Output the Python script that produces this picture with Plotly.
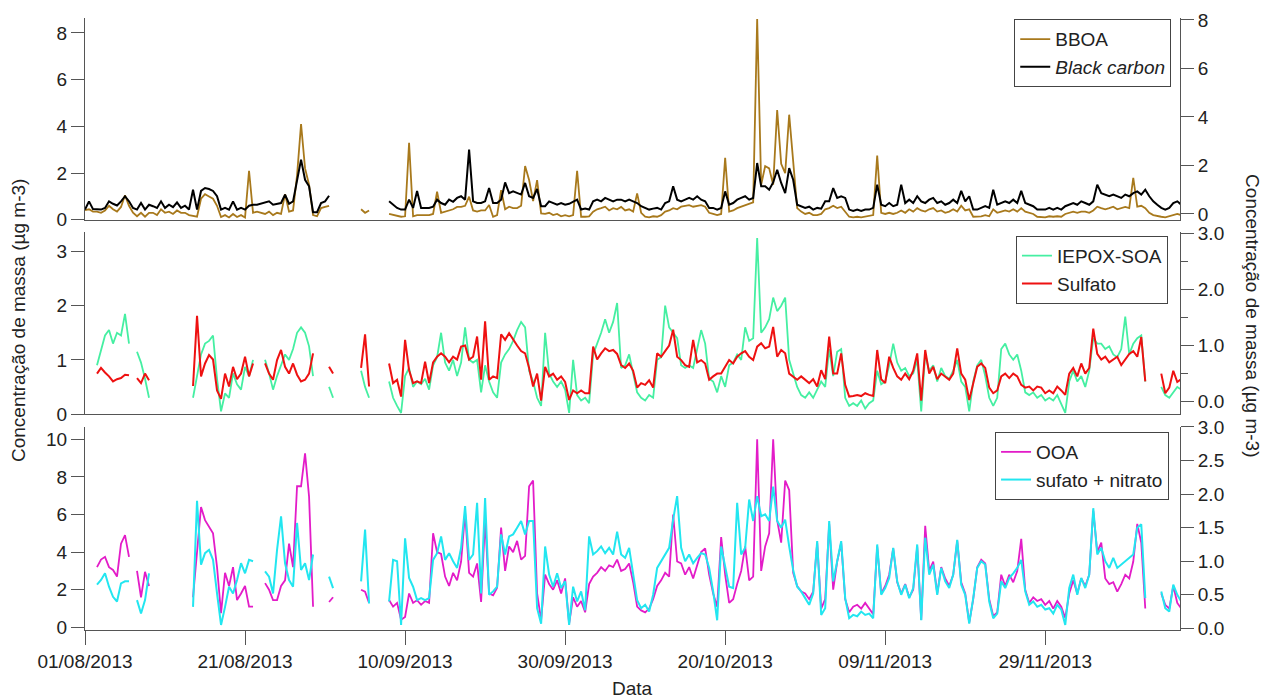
import pandas as pd
import plotly.graph_objects as go

N = None
# 12-hour time grid starting 01/08/2013 00:00 (275 points)
start = pd.Timestamp("2013-08-01")
times = [start + pd.Timedelta(hours=12 * k) for k in range(275)]

bboa = [0.41, 0.45, 0.35, 0.35, 0.3, 0.4, 0.6, 0.45, 0.35, 0.55,
        1.05, 0.6, 0.3, 0.15, 0.3, 0.13, 0.3, 0.3, 0.2, 0.45,
        0.3, 0.35, 0.25, 0.4, 0.3, 0.3, 0.2, 0.15, 0.13, 0.9,
        1.1, 1.0, 0.9, 0.6, 0.12, 0.2, 0.1, 0.25, 0.12, 0.2,
        0.1, 2.1, 0.3, 0.35, 0.3, 0.25, 0.35, 0.2, 0.3, 0.25,
        1.1, 0.35, 0.4, 1.9, 4.1, 2.2, 1.5, 0.2, 0.15, 0.5,
        0.55, 0.6, N, N, N, N, N, N, N, 0.45,
        0.3, 0.4, N, N, N, N, 0.25, 0.2, 0.15, 0.13,
        0.15, 3.3, 0.15, 0.2, 0.2, 0.2, 0.2, 0.25, 1.2, 0.3,
        0.35, 0.4, 0.45, 0.55, 0.55, 0.6, 0.99, 0.4, 0.35, 0.4,
        0.4, 0.63, 0.13, 0.2, 1.27, 0.45, 0.56, 0.5, 0.5, 0.6,
        2.3, 1.7, 0.8, 1.7, 0.27, 0.25, 0.3, 0.2, 0.25, 0.15,
        0.2, 0.15, 0.2, 2.1, 0.13, 0.13, 0.15, 0.35, 0.45, 0.5,
        0.56, 0.4, 0.5, 0.45, 0.55, 0.4, 0.45, 0.35, 1.13, 0.3,
        0.13, 0.1, 0.15, 0.13, 0.2, 0.35, 0.4, 0.5, 0.45, 0.56,
        0.6, 0.63, 0.56, 0.6, 0.63, 0.56, 0.3, 0.25, 0.2, 0.25,
        2.65, 0.35, 0.4, 0.5, 0.56, 0.63, 0.7, 0.75, 8.6, 1.5,
        2.3, 2.2, 1.5, 4.7, 2.4, 2.0, 4.5, 2.6, 0.5, 0.35,
        0.25, 0.3, 0.2, 0.2, 0.25, 0.45, 0.5, 0.6, 0.5, 0.56,
        0.35, 0.13, 0.1, 0.13, 0.1, 0.13, 0.15, 0.2, 2.75, 0.3,
        0.25, 0.3, 0.25, 0.3, 0.4, 0.3, 0.45, 0.35, 0.5, 0.4,
        0.35, 0.45, 0.5, 0.35, 0.4, 0.3, 0.35, 0.45, 0.35, 0.6,
        0.4, 0.45, 0.13, 0.13, 0.15, 0.2, 0.15, 0.45, 0.3, 0.35,
        0.4, 0.35, 0.45, 0.35, 0.5, 0.35, 0.3, 0.25, 0.13, 0.13,
        0.1, 0.15, 0.13, 0.15, 0.13, 0.25, 0.3, 0.35, 0.3, 0.35,
        0.35, 0.3, 0.4, 0.56, 0.5, 0.45, 0.5, 0.56, 0.45, 0.5,
        0.55, 0.5, 1.8, 0.56, 0.6, 0.5, 0.3, 0.2, 0.15, 0.13,
        0.1, 0.15, 0.2, 0.25, 0.2]

black_carbon = [0.18, 0.52, 0.2, 0.2, 0.18, 0.25, 0.52, 0.42, 0.35, 0.52,
                0.73, 0.52, 0.25, 0.18, 0.45, 0.18, 0.38, 0.32, 0.25, 0.52,
                0.25, 0.38, 0.28, 0.48, 0.25, 0.34, 0.18, 1.0, 0.18, 0.95,
                1.07, 1.03, 0.95, 0.73, 0.18, 0.25, 0.18, 0.52, 0.18, 0.25,
                0.18, 0.34, 0.38, 0.38, 0.42, 0.48, 0.52, 0.38, 0.42, 0.45,
                0.8, 0.42, 0.52, 1.41, 2.24, 1.41, 1.14, 0.07, 0.07, 0.45,
                0.52, 0.75, N, N, N, N, N, N, N, N,
                N, N, N, N, N, N, 0.52, 0.38, 0.25, 0.18,
                0.18, 0.59, 0.25, 0.95, 0.25, 0.25, 0.25, 0.3, 0.59, 0.45,
                0.38, 0.59, 0.5, 0.66, 0.73, 0.59, 2.65, 0.52, 0.45, 0.45,
                0.52, 1.07, 0.45, 0.45, 0.59, 1.3, 0.86, 0.93, 0.86, 0.8,
                1.28, 0.73, 0.66, 1.03, 0.32, 0.32, 0.52, 0.45, 0.38, 0.45,
                0.38, 0.42, 0.52, 0.59, 0.18, 0.22, 0.18, 0.52, 0.59, 0.52,
                0.66, 0.59, 0.52, 0.59, 0.59, 0.52, 0.59, 0.52, 0.45, 0.32,
                0.25, 0.18, 0.22, 0.25, 0.18, 0.45, 0.52, 1.14, 0.59, 0.52,
                0.59, 0.66, 0.59, 0.73, 0.59, 0.52, 0.25, 0.25, 0.18, 0.25,
                0.93, 0.38, 0.45, 0.59, 0.66, 0.73, 0.59, 0.66, 2.1, 1.14,
                1.14, 1.0, 1.3, 1.82, 1.28, 0.86, 1.89, 1.41, 0.38, 0.32,
                0.25, 0.3, 0.18, 0.25, 0.22, 0.52, 0.52, 1.07, 0.66, 0.73,
                0.66, 0.18, 0.12, 0.18, 0.12, 0.18, 0.18, 0.25, 1.21, 0.38,
                0.32, 0.45, 0.32, 0.38, 1.21, 0.45, 0.59, 0.45, 0.73, 0.52,
                0.45, 0.59, 0.66, 0.45, 0.52, 0.38, 0.45, 0.59, 0.45, 0.95,
                0.52, 0.73, 0.18, 0.18, 0.25, 0.32, 0.25, 1.0, 0.38, 0.45,
                0.52, 0.45, 0.59, 0.45, 0.95, 0.45, 0.38, 0.32, 0.18, 0.18,
                0.18, 0.25, 0.18, 0.25, 0.18, 0.32, 0.38, 0.45, 0.38, 0.52,
                0.45, 0.38, 0.52, 1.21, 0.86, 0.8, 0.73, 0.8, 0.73, 0.66,
                0.8, 0.73, 0.86, 0.93, 0.8, 1.0, 0.73, 0.52, 0.38, 0.25,
                0.18, 0.25, 0.45, 0.52, 0.38]

iepox_soa = [N, N, N, 0.9, 1.2, 1.45, 1.55, 1.3, 1.5, 1.45,
             1.85, 1.3, N, 1.15, 0.95, 0.65, 0.3, N, N, N,
             N, N, N, N, N, N, N, 0.3, 0.7, 1.1,
             1.3, 1.35, 1.45, 0.65, 0.05, 0.38, 0.3, 0.75, 0.55, 0.45,
             0.87, 0.7, 1.0, N, N, 1.0, 0.75, 0.45, 0.7, 0.9,
             1.1, 1.0, 1.2, 1.5, 1.6, 1.5, 1.25, 0.7, N, N,
             N, 0.5, 0.3, N, N, N, N, N, N, 0.8,
             0.5, 0.3, N, N, N, N, 0.6, 0.3, 0.15, 0.02,
             0.7, 0.85, 0.5, 0.6, 0.55, 0.65, 0.45, 0.9, 1.05, 1.5,
             0.95, 0.8, 1.0, 0.7, 0.95, 1.6, 1.0, 0.95, 1.0, 0.4,
             0.9, 0.6, 0.4, 0.3, 0.95, 1.1, 1.2, 1.35, 1.55, 1.7,
             1.6, 0.8, 0.6, 0.3, 0.15, 1.5, 0.75, 0.6, 0.5, 0.6,
             0.45, 0.02, 1.0, 0.35, 0.25, 0.3, 0.2, 1.1, 1.3, 1.5,
             1.75, 1.5, 1.7, 2.05, 0.85, 0.9, 1.1, 0.75, 0.4, 0.3,
             0.25, 0.35, 0.3, 1.0, 1.05, 2.0, 1.6, 1.5, 1.4, 0.9,
             0.85, 0.9, 0.85, 1.2, 1.55, 1.3, 0.65, 0.6, 0.4, 0.7,
             0.5, 0.9, 0.95, 1.1, 1.0, 1.6, 1.35, 1.4, 3.25, 1.5,
             1.6, 1.75, 2.15, 1.9, 2.0, 2.15, 1.0, 0.75, 0.5, 0.35,
             0.3, 0.4, 0.3, 0.45, 0.6, 0.5, 1.2, 0.7, 1.15, 1.2,
             0.3, 0.15, 0.2, 0.15, 0.25, 0.1, 0.2, 0.25, 0.8, 0.55,
             0.6, 0.9, 1.3, 0.95, 0.8, 0.85, 0.7, 0.75, 1.0, 0.05,
             1.1, 0.8, 0.9, 0.6, 0.85, 0.7, 0.65, 0.8, 1.0, 0.6,
             0.5, 0.05, 0.6, 0.9, 1.0, 0.7, 0.3, 0.15, 0.3, 1.2,
             1.3, 1.1, 1.0, 1.1, 0.8, 0.4, 0.35, 0.4, 0.3, 0.35,
             0.25, 0.3, 0.25, 0.35, 0.2, 0.02, 0.6, 0.8, 0.6, 0.7,
             0.5, 0.8, 1.4, 1.3, 1.3, 1.2, 1.25, 1.1, 1.05, 1.2,
             1.8, 1.1, 1.3, 1.4, 1.45, 0.6, N, N, N, 0.5,
             0.35, 0.3, 0.4, 0.5, 0.45]

sulfato = [N, N, N, 0.5, 0.6, 0.52, 0.45, 0.36, 0.4, 0.42,
           0.48, 0.47, N, 0.42, 0.33, 0.5, 0.38, N, N, N,
           N, N, N, N, N, N, N, 0.28, 1.53, 0.45,
           0.68, 0.83, 0.75, 0.2, 0.05, 0.5, 0.27, 0.62, 0.4, 0.5,
           0.8, 0.45, 0.68, N, N, 0.68, 0.5, 0.39, 0.74, 0.92,
           0.62, 0.5, 0.68, 0.48, 0.36, 0.39, 0.5, 0.86, N, N,
           N, 0.62, 0.5, N, N, N, N, N, N, 0.6,
           1.2, 0.27, N, N, N, N, 0.68, 0.33, 0.39, 0.09,
           1.1, 0.56, 0.33, 0.36, 0.33, 0.71, 0.33, 0.7, 0.8, 0.86,
           0.8, 0.7, 0.8, 0.75, 0.98, 1.0, 0.75, 0.8, 1.16, 0.39,
           1.43, 0.39, 0.45, 0.42, 1.2, 1.1, 1.22, 1.1, 1.0, 0.9,
           0.86, 0.6, 0.27, 0.5, 0.02, 0.62, 0.45, 0.5, 0.39, 0.45,
           0.35, 0.03, 0.2, 0.15, 0.2, 0.15, 0.15, 0.98, 0.75, 0.86,
           0.95, 0.9, 0.92, 0.85, 0.65, 0.6, 0.68, 0.55, 0.25, 0.33,
           0.3, 0.38, 0.25, 0.86, 0.8, 0.9, 1.0, 1.28, 0.8, 0.74,
           0.65, 0.62, 1.1, 0.7, 0.74, 0.68, 0.39, 0.45, 0.5, 0.5,
           0.62, 0.74, 0.68, 0.8, 0.86, 0.9, 0.8, 0.74, 0.98, 1.04,
           0.95, 0.98, 1.33, 0.8, 0.92, 0.86, 0.5, 0.45, 0.39, 0.45,
           0.39, 0.33, 0.4, 0.27, 0.56, 0.4, 1.16, 0.5, 0.5, 0.86,
           0.3, 0.09, 0.1, 0.12, 0.1, 0.15, 0.12, 0.1, 0.92, 0.4,
           0.33, 0.8, 0.6, 0.45, 0.39, 0.5, 0.4, 0.55, 0.86, 0.02,
           0.92, 0.5, 0.62, 0.4, 0.5, 0.45, 0.39, 0.5, 0.95, 0.5,
           0.39, 0.03, 0.3, 0.62, 0.68, 0.6, 0.25, 0.15, 0.2, 0.45,
           0.5, 0.42, 0.5, 0.45, 0.3, 0.25, 0.27, 0.2, 0.27, 0.25,
           0.15, 0.2, 0.15, 0.27, 0.2, 0.12, 0.5, 0.6, 0.45, 0.68,
           0.5, 0.6, 1.3, 0.85, 0.75, 0.8, 0.7, 0.75, 0.8, 0.65,
           0.75, 0.85, 0.9, 0.8, 1.15, 0.36, N, N, N, 0.5,
           0.15, 0.25, 0.55, 0.35, 0.4]

ooa = [N, N, N, 3.2, 3.6, 3.75, 3.2, 3.05, 2.7, 4.45,
       4.9, 3.75, N, 3.0, 1.6, 2.95, 2.2, N, N, N,
       N, N, N, N, N, N, N, 1.6, 3.9, 6.4,
       5.7, 5.35, 5.0, 3.2, 0.75, 2.9, 2.2, 3.2, 1.45, 1.8,
       2.2, 1.1, 1.1, N, N, 2.35, 2.0, 1.45, 1.45, 2.2,
       2.5, 4.45, 3.2, 7.5, 7.5, 9.25, 6.95, 1.1, N, N,
       N, 1.35, 1.6, N, N, N, N, N, N, 2.0,
       1.9, 1.3, N, N, N, N, 1.45, 1.1, 1.3, 0.4,
       0.55, 1.8, 1.3, 1.45, 1.2, 1.4, 1.3, 5.0, 4.0, 3.9,
       2.7, 2.2, 2.9, 2.5, 3.5, 6.1, 2.9, 2.7, 3.4, 1.35,
       5.7, 1.8, 1.7, 2.1, 5.3, 3.0, 4.3, 4.0, 4.6, 3.6,
       3.8, 7.5, 7.8, 1.8, 0.4, 2.8, 2.3, 2.0, 2.5, 1.8,
       2.6, 0.2, 1.6, 1.1, 1.4, 0.8, 2.3, 2.7, 2.9, 3.2,
       3.0, 3.3, 3.2, 3.6, 3.0, 3.1, 3.4, 2.4, 1.1, 0.9,
       0.8, 1.0, 1.5, 2.2, 2.5, 2.9, 2.7, 6.0, 3.5, 3.4,
       2.8, 3.2, 2.6, 3.3, 4.0, 4.2, 2.8, 1.8, 1.1, 4.8,
       2.8, 1.3, 1.5, 2.3, 3.0, 4.3, 2.5, 2.7, 10.0, 3.0,
       4.3, 5.0, 10.0, 5.7, 4.5, 7.8, 7.3, 2.9, 2.2, 1.9,
       1.8, 1.5, 1.9, 4.5, 1.0, 1.5, 5.5, 2.0, 3.5, 4.5,
       1.5, 0.8, 1.1, 1.2, 1.0, 1.3, 1.0, 0.7, 4.3, 1.8,
       2.2, 2.8, 4.2, 2.4, 1.8, 2.3, 1.6, 2.0, 4.3, 0.4,
       5.4, 3.0, 3.5, 1.8, 3.2, 2.6, 2.2, 2.8, 4.6, 2.4,
       1.8, 0.25, 1.5, 3.2, 3.6, 3.4, 1.5, 0.6, 0.8, 2.8,
       2.2, 2.8, 2.4, 3.0, 4.7, 2.0, 1.3, 1.6, 1.4, 1.5,
       1.2, 1.4, 1.0, 1.4, 1.1, 0.5, 1.8, 2.5, 1.8, 2.6,
       2.2, 2.8, 6.2, 4.0, 4.5, 2.6, 2.3, 2.4, 1.9, 2.3,
       2.8, 2.6, 3.5, 5.5, 4.5, 1.0, N, N, N, 1.8,
       1.2, 1.0, 2.2, 1.3, 1.0]

sulfato_nitrato = [N, N, N, 0.65, 0.72, 0.82, 0.62, 0.47, 0.4, 0.67,
                   0.7, 0.7, N, 0.42, 0.22, 0.42, 0.82, N, N, N,
                   N, N, N, N, N, N, N, 0.32, 1.9, 0.95,
                   1.12, 1.17, 1.02, 0.52, 0.05, 0.32, 0.62, 0.52, 0.72, 0.97,
                   0.82, 1.02, 1.0, N, N, 0.85, 0.77, 0.52, 1.17, 1.67,
                   0.97, 0.72, 0.62, 1.57, 0.87, 0.97, 0.72, 1.1, N, N,
                   N, 0.77, 0.6, N, N, N, N, N, N, 0.7,
                   1.47, 0.37, N, N, N, N, 0.4, 1.02, 1.0, 0.05,
                   1.34, 0.75, 0.62, 0.42, 0.45, 0.42, 0.45, 1.02, 1.12, 1.37,
                   1.02, 1.12, 1.0, 0.9, 1.2, 1.82, 1.02, 1.1, 1.87, 0.52,
                   1.94, 0.5, 0.55, 0.62, 1.4, 1.1, 1.37, 1.4, 1.5, 1.6,
                   1.4, 1.6, 1.6, 0.3, 0.07, 1.22, 0.8, 0.62, 0.82, 0.6,
                   0.7, 0.05, 0.62, 0.4, 0.55, 0.27, 1.37, 1.1, 1.15, 1.22,
                   1.12, 1.2, 1.1, 1.44, 1.1, 1.05, 1.2, 0.8, 0.42, 0.3,
                   0.35, 0.25, 0.5, 0.9, 1.0, 1.12, 1.2, 1.62, 1.97, 1.2,
                   1.0, 1.1, 0.97, 1.05, 1.12, 1.1, 0.9, 0.55, 0.12, 1.22,
                   0.9, 0.62, 0.6, 1.87, 1.1, 1.2, 1.92, 1.6, 1.97, 1.67,
                   1.7, 1.6, 2.11, 1.6, 1.5, 1.62, 1.22, 0.87, 0.62, 0.55,
                   0.45, 0.35, 0.52, 1.3, 0.2, 0.3, 1.6, 0.7, 1.0, 1.3,
                   0.45, 0.15, 0.2, 0.18, 0.25, 0.2, 0.22, 0.15, 1.25, 0.5,
                   0.6, 0.75, 1.2, 0.7, 0.5, 0.65, 0.45, 0.6, 1.25, 0.12,
                   1.35, 0.8, 0.95, 0.5, 0.9, 0.7, 0.6, 0.8, 1.32, 0.65,
                   0.5, 0.07, 0.45, 0.9, 1.0, 0.95, 0.4, 0.15, 0.22, 0.7,
                   0.6, 0.75, 0.82, 0.9, 1.02, 0.55, 0.35, 0.4, 0.32, 0.35,
                   0.28, 0.3, 0.22, 0.35, 0.28, 0.05, 0.6, 0.8, 0.5, 0.75,
                   0.6, 0.8, 1.79, 1.1, 1.2, 1.0, 0.9, 1.05, 0.9, 0.95,
                   1.0, 1.05, 1.1, 1.5, 1.55, 0.45, N, N, N, 0.55,
                   0.3, 0.25, 0.65, 0.5, 0.4]

tick_dates = ["2013-08-01", "2013-08-21", "2013-09-10", "2013-09-30",
              "2013-10-20", "2013-11-09", "2013-11-29"]
tick_labels = ["01/08/2013", "21/08/2013", "10/09/2013", "30/09/2013",
               "20/10/2013", "09/11/2013", "29/11/2013"]

for arr in (bboa, black_carbon, iepox_soa, sulfato, ooa, sulfato_nitrato):
    assert len(arr) == len(times), len(arr)

FONT = "Liberation Sans, Arial, sans-serif"
AX = "#555555"
TXT = "#222222"

fig = go.Figure()
fig.add_trace(go.Scatter(x=times, y=bboa, name="BBOA", mode="lines",
                         line=dict(color="#A8791C", width=1.8),
                         xaxis="x3", yaxis="y", legend="legend"))
fig.add_trace(go.Scatter(x=times, y=black_carbon, name="<i>Black carbon</i>", mode="lines",
                         line=dict(color="#000000", width=2),
                         xaxis="x3", yaxis="y2", legend="legend"))
fig.add_trace(go.Scatter(x=times, y=iepox_soa, name="IEPOX-SOA", mode="lines",
                         line=dict(color="#45EFA2", width=1.8),
                         xaxis="x2", yaxis="y3", legend="legend2"))
fig.add_trace(go.Scatter(x=times, y=sulfato, name="Sulfato", mode="lines",
                         line=dict(color="#EE1111", width=2),
                         xaxis="x2", yaxis="y4", legend="legend2"))
fig.add_trace(go.Scatter(x=times, y=ooa, name="OOA", mode="lines",
                         line=dict(color="#E31CC8", width=1.8),
                         xaxis="x", yaxis="y5", legend="legend3"))
fig.add_trace(go.Scatter(x=times, y=sulfato_nitrato, name="sufato + nitrato", mode="lines",
                         line=dict(color="#22E6F0", width=2),
                         xaxis="x", yaxis="y6", legend="legend3"))

x_range = ["2013-08-01 00:00", "2013-12-15 20:10"]
dom3 = [0.0, 0.3317]
dom2 = [0.3529, 0.6503]
dom1 = [0.6699, 1.0]

tickfont = dict(family=FONT, size=19, color=TXT)


def yax(rng, dom=None, side="left", overlay=None, anchor=None, **kw):
    d = dict(range=rng, side=side, showline=True, linecolor=AX, linewidth=1,
             ticks="outside", ticklen=13, tickcolor=AX, tickwidth=1,
             showgrid=False, zeroline=False, tickfont=tickfont,
             automargin=False, fixedrange=True)
    if dom is not None:
        d["domain"] = dom
    if overlay is not None:
        d["overlaying"] = overlay
    if anchor is not None:
        d["anchor"] = anchor
    d.update(kw)
    return d


xbase = dict(range=x_range, type="date", showline=True, linecolor=AX, linewidth=1,
             showgrid=False, zeroline=False, automargin=False, domain=[0, 1])

legend_style = dict(xanchor="right", yanchor="top", bgcolor="white",
                    bordercolor="#444444", borderwidth=1,
                    font=dict(family=FONT, size=19, color=TXT), tracegroupgap=0)

fig.update_layout(
    width=1265, height=698,
    margin=dict(l=85, r=85, t=18, b=68),
    paper_bgcolor="white", plot_bgcolor="white",
    font=dict(family=FONT, size=19, color=TXT),
    showlegend=True,
    xaxis=dict(xbase, anchor="y5", ticks="outside", ticklen=14, tickcolor=AX,
               tickvals=tick_dates, ticktext=tick_labels, tickfont=tickfont),
    xaxis2=dict(xbase, anchor="y3", matches="x", ticks="", showticklabels=False),
    xaxis3=dict(xbase, anchor="y", matches="x", ticks="", showticklabels=False),
    yaxis=yax([-0.01, 8.64], dom=dom1, anchor="x3", tickvals=[0, 2, 4, 6, 8]),
    yaxis2=yax([-0.25, 8.08], side="right", overlay="y", anchor="x3",
               tickvals=[0, 2, 4, 6, 8]),
    yaxis3=yax([0, 3.36], dom=dom2, anchor="x2", tickvals=[0, 1, 2, 3]),
    yaxis4=yax([-0.22, 3.02], side="right", overlay="y3", anchor="x2",
               tickvals=[0, 1, 2, 3], tickformat=".1f",
               minor=dict(tickvals=[0.5, 1.5, 2.5], ticks="outside", ticklen=7,
                          tickcolor=AX)),
    yaxis5=yax([-0.14, 10.65], dom=dom3, anchor="x", tickvals=[0, 2, 4, 6, 8, 10]),
    yaxis6=yax([-0.025, 3.0], side="right", overlay="y5", anchor="x",
               tickvals=[0, 0.5, 1.0, 1.5, 2.0, 2.5, 3.0], tickformat=".1f"),
    legend=dict(legend_style, x=0.992, y=0.998),
    legend2=dict(legend_style, x=0.989, y=0.644),
    legend3=dict(legend_style, x=0.990, y=0.3235),
    annotations=[
        dict(text="Concentração de massa (µg m-3)", xref="paper", yref="paper",
             x=-0.0612, y=0.5065, xanchor="center", yanchor="middle",
             textangle=-90, showarrow=False,
             font=dict(family=FONT, size=19, color=TXT)),
        dict(text="Concentração de massa (µg m-3)", xref="paper", yref="paper",
             x=1.0666, y=0.513, xanchor="center", yanchor="middle",
             textangle=90, showarrow=False,
             font=dict(family=FONT, size=19, color=TXT)),
        dict(text="Data", xref="paper", yref="paper", x=0.5, y=-0.0948,
             xanchor="center", yanchor="middle",
             showarrow=False, font=dict(family=FONT, size=19, color=TXT)),
    ],
)

fig.write_html("out.html")
